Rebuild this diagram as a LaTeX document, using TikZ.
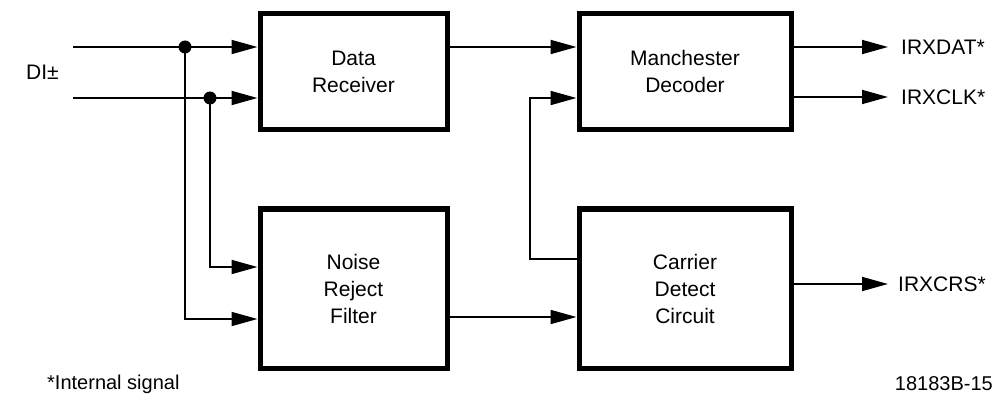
\documentclass[tikz,border=0pt]{standalone}
\usepackage{fontspec}
\setmainfont{Liberation Sans}
\usetikzlibrary{arrows.meta}
\begin{document}
\begin{tikzpicture}[x=1pt,y=-1pt,
  blk/.style={draw,line width=5pt,inner sep=0pt,align=center,
    font=\fontsize{21pt}{27pt}\selectfont},
  sig/.style={line width=1.8pt},
  arr/.style={sig,-{Triangle[length=26pt,width=14pt]}},
  lbl/.style={inner sep=0pt,font=\fontsize{21pt}{25pt}\selectfont},
  note/.style={inner sep=0pt,font=\fontsize{20pt}{24pt}\selectfont},
  dot/.style={circle,fill,inner sep=0pt,minimum size=13pt}]
\useasboundingbox (0,0) rectangle (998,398);
% blocks
\node[blk,minimum width=187pt,minimum height=116.5pt] (dr) at (353.5,71.75) {Data\\Receiver};
\node[blk,minimum width=212pt,minimum height=116.5pt] (md) at (685,71.75) {Manchester\\Decoder};
\node[blk,minimum width=187pt,minimum height=159pt] (nrf) at (353.5,288.5) {Noise\\Reject\\Filter};
\node[blk,minimum width=212pt,minimum height=159pt] (cdc) at (685,288.5) {Carrier\\Detect\\Circuit};
% labels
\node[lbl,anchor=west] (di) at (26,72) {DI\char"00B1};
\node[lbl,anchor=west] (tdat) at (901,47) {IRXDAT*};
\node[lbl,anchor=west] (tclk) at (901,97) {IRXCLK*};
\node[lbl,anchor=west] (tcrs) at (898,284) {IRXCRS*};
\node[note,anchor=west] (fn) at (47,384) {*Internal signal};
\node[note,anchor=east] (id) at (993,384) {18183B-15};
% inputs
\coordinate (in1) at (73,47);
\coordinate (in2) at (73,98);
\node[dot] (j1) at (185,47) {};
\node[dot] (j2) at (210,98) {};
\coordinate (n1) at (210,267);
\coordinate (n2) at (185,319);
\coordinate (k) at (530,259);
\coordinate (m) at (530,98);
\draw[arr] (in1) -- (in1 -| dr.west);
\draw[arr] (in2) -- (in2 -| dr.west);
\draw[arr] (j2.center) -- (n1) -- (n1 -| nrf.west);
\draw[arr] (j1.center) -- (n2) -- (n2 -| nrf.west);
% middle
\draw[arr] (dr.east |- in1) -- (md.west |- in1);
\draw[arr] (nrf.east |- 0,317) -- (cdc.west |- 0,317);
\draw[arr] (cdc.west |- k) -- (k) -- (m) -- (md.west |- m);
% outputs
\draw[arr] (md.east |- tdat) -- ([xshift=-13pt]tdat.west);
\draw[arr] (md.east |- tclk) -- ([xshift=-13pt]tclk.west);
\draw[arr] (cdc.east |- tcrs) -- ([xshift=-10pt]tcrs.west);
\end{tikzpicture}
\end{document}
